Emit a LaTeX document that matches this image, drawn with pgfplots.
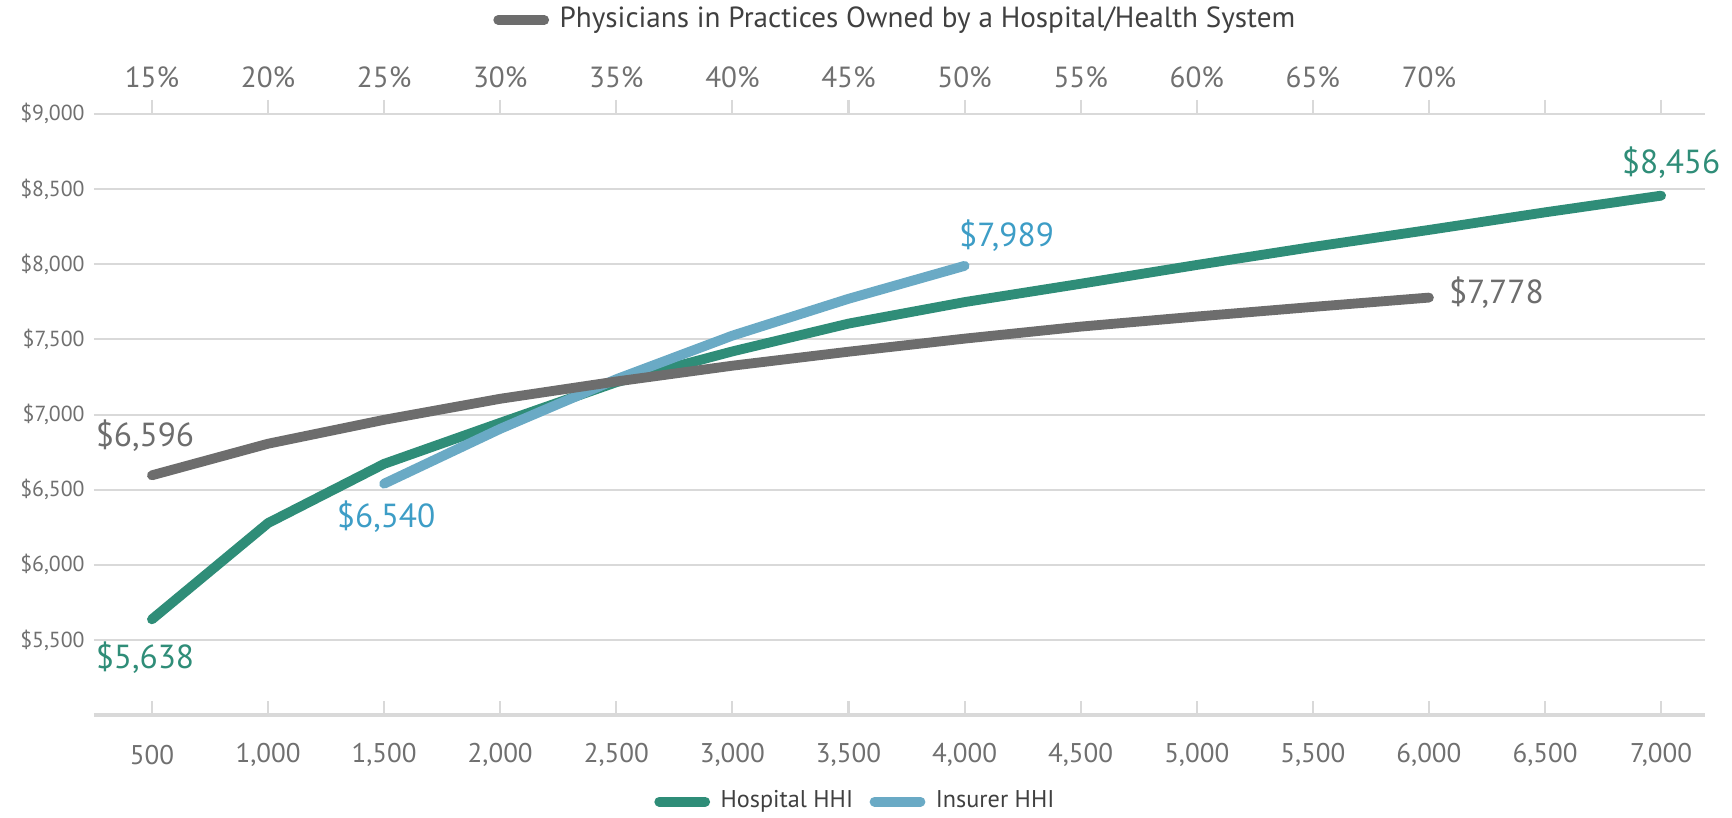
\documentclass[border=0pt]{standalone}
\usepackage{pgfplots}
\pgfplotsset{compat=1.18}
\usepackage{fontspec}
\setmainfont{PT Sans}

\definecolor{hospgreen}{HTML}{2F8D78}
\definecolor{insblue}{HTML}{6AAAC5}
\definecolor{insbluetxt}{HTML}{3D9DC6}
\definecolor{physgray}{HTML}{6D6D6D}
\definecolor{ticktxt}{HTML}{707070}
\definecolor{gridc}{HTML}{D9D9D9}

\begin{document}
\begin{tikzpicture}
\pgfplotsset{
  every axis/.append style={
    scale only axis, width=16.13cm, height=6.02cm,
    xmin=250, xmax=7190, ymin=5000, ymax=9000,
  },
  hhi line/.style={line width=2.8pt, line cap=round, line join=round},
  legend image code/.code={\draw[#1, line cap=round] (0mm,0mm) -- (4.6mm,0mm);},
}
% main axis: HHI on the bottom axis
\begin{axis}[
  name=main,
  axis x line*=bottom, axis y line*=left,
  x axis line style={draw=gridc, line width=1.2pt},
  y axis line style={draw=none},
  xtick={500,1000,...,7000},
  xticklabels={500,{1,000},{1,500},{2,000},{2,500},{3,000},{3,500},{4,000},{4,500},{5,000},{5,500},{6,000},{6,500},{7,000}},
  ytick={5500,6000,...,9000},
  yticklabels={{\$5,500},{\$6,000},{\$6,500},{\$7,000},{\$7,500},{\$8,000},{\$8,500},{\$9,000}},
  ymajorgrids, grid style={draw=gridc, line width=0.6pt},
  xtick align=inside, major tick length=1.4mm,
  xtick style={draw=gridc, line width=0.6pt},
  ytick style={draw=none},
  xticklabel style={font=\fontsize{7.7}{9}\selectfont, text=ticktxt, anchor=center, yshift=-4mm},
  yticklabel style={font=\fontsize{6.2}{7}\selectfont, text=ticktxt, anchor=east, xshift=0.3mm},
  clip=false,
  legend columns=2,
  legend style={at={(0.5,0)}, anchor=center, yshift=-8.65mm, xshift=-4mm,
    draw=none, fill=none, inner sep=0pt, font=\fontsize{6.9}{8}\selectfont, text=black!75,
    nodes={inner xsep=3pt, inner ysep=1pt},
    /tikz/every even column/.append style={column sep=0.6mm}},
]
\addplot[hospgreen, hhi line] coordinates {
(500,5638) (1000,6278) (1500,6672) (2000,6945) (2500,7215) (3000,7420) (3500,7605)
(4000,7748) (4500,7870) (5000,7995) (5500,8115) (6000,8228) (6500,8345) (7000,8456)};
\addlegendentry{Hospital HHI}
\addplot[insblue, hhi line] coordinates {
(1500,6540) (2000,6905) (2500,7235) (3000,7525) (3500,7770) (4000,7989)};
\addlegendentry{Insurer HHI}
\addplot[physgray, hhi line, forget plot] coordinates {
(500,6596) (1000,6806) (1500,6965) (2000,7105) (2500,7220) (3000,7325)
(3500,7418) (4000,7505) (4500,7585) (5000,7652) (5500,7716) (6000,7778)};

\node[font=\fontsize{9.5}{11}\selectfont, text=physgray] at (axis cs:500,6596) [xshift=-0.7mm, yshift=4mm] {\$6,596};
\node[font=\fontsize{9.5}{11}\selectfont, text=hospgreen] at (axis cs:500,5638) [xshift=-0.7mm, yshift=-3.8mm] {\$5,638};
\node[font=\fontsize{9.5}{11}\selectfont, text=insbluetxt] at (axis cs:1500,6540) [xshift=0.2mm, yshift=-3.3mm] {\$6,540};
\node[font=\fontsize{9.5}{11}\selectfont, text=insbluetxt] at (axis cs:4000,7989) [xshift=4.2mm, yshift=3mm] {\$7,989};
\node[font=\fontsize{9.5}{11}\selectfont, text=physgray] at (axis cs:6000,7778) [xshift=6.75mm, yshift=0.5mm] {\$7,778};
\node[font=\fontsize{9.5}{11}\selectfont, text=hospgreen] at (axis cs:7000,8456) [xshift=1mm, yshift=3.3mm] {\$8,456};
\end{axis}

% top axis: share of physicians in hospital-owned practices
\begin{axis}[
  axis x line*=top, axis y line=none,
  x axis line style={draw=gridc, line width=0.6pt},
  xtick={500,1000,...,7000},
  xticklabels={15\%,20\%,25\%,30\%,35\%,40\%,45\%,50\%,55\%,60\%,65\%,70\%,{},{}},
  ytick=\empty,
  xtick align=outside, major tick length=1.4mm,
  xtick style={draw=gridc, line width=0.6pt},
  xticklabel style={font=\fontsize{8.3}{9}\selectfont, text=ticktxt, anchor=center, yshift=2.3mm},
  legend style={at={(0.5,1)}, anchor=center, yshift=9.4mm,
    draw=none, fill=none, inner sep=0pt, nodes={inner xsep=3pt, inner ysep=1pt},
    font=\fontsize{8.3}{9}\selectfont, text=black!75},
]
\addlegendimage{physgray, hhi line}
\addlegendentry{Physicians in Practices Owned by a Hospital/Health System}
\end{axis}

\path ([shift={(-9.4mm,-10.2mm)}]main.south west) rectangle ([shift={(2.5mm,11.4mm)}]main.north east);
\end{tikzpicture}
\end{document}
